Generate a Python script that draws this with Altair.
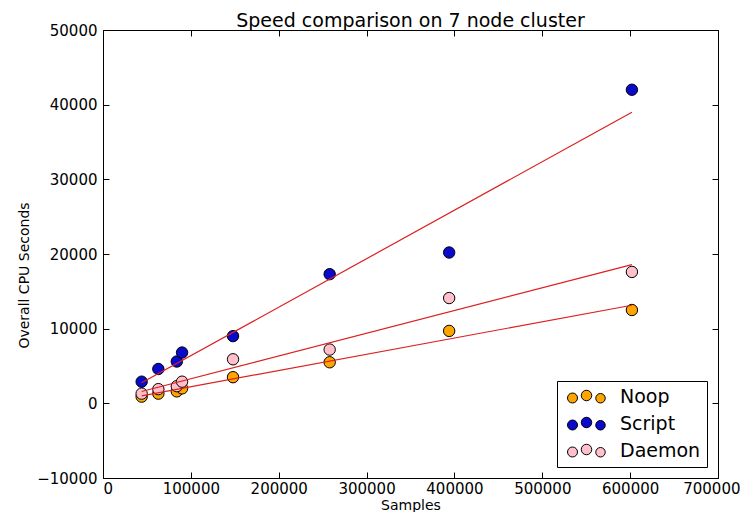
import altair as alt
import pandas as pd

# ---- data ----
series_names = ["Noop", "Script", "Daemon"]
samples = [44000, 63000, 84000, 90000, 148000, 258000, 394000, 602000]
noop_cpu = [900, 1300, 1600, 2000, 3500, 5500, 9700, 12500]
script_cpu = [2900, 4600, 5600, 6800, 9000, 17300, 20200, 42000]
daemon_cpu = [1300, 1900, 2300, 2900, 5900, 7200, 14100, 17600]
series_colors = ["#FFA500", "#0a0acc", "#FFC0CB"]
x_ticks = [0, 100000, 200000, 300000, 400000, 500000, 600000, 700000]
x_labels_main = [0, 100000, 200000, 300000, 400000, 500000, 600000]
x_label_last = [700000]
y_ticks = [-10000, 0, 10000, 20000, 30000, 40000, 50000]

rows = []
for name, vals in zip(series_names, [noop_cpu, script_cpu, daemon_cpu]):
    for s, v in zip(samples, vals):
        rows.append({"Series": name, "Samples": s, "CPU": v})
df = pd.DataFrame(rows)

FONT = "DejaVu Sans"

# legend symbol: three circles like matplotlib's scatter legend
def circ(cx, cy, r):
    return f"M{cx - r},{cy}A{r},{r} 0 1,0 {cx + r},{cy}A{r},{r} 0 1,0 {cx - r},{cy}Z"

legend_path = circ(0, 0.3, 1.0) + " " + circ(2.8, -0.2, 1.05) + " " + circ(5.6, 0.35, 0.95)

xscale = alt.Scale(domain=[0, 700000], nice=False, zero=False)
yscale = alt.Scale(domain=[-10000, 50000], nice=False, zero=False)

base = alt.Chart(df)

points = base.mark_point(filled=True, size=130, stroke="black", strokeWidth=1, opacity=1).encode(
    x=alt.X("Samples:Q", scale=xscale,
            axis=alt.Axis(orient="bottom", values=x_labels_main, format="d", ticks=False, domain=False,
                          grid=False, labelPadding=3, title="Samples", titleFontSize=14,
                          titleX=307.5, titleY=34, titleBaseline="bottom")),
    y=alt.Y("CPU:Q", scale=yscale,
            axis=alt.Axis(orient="left", values=y_ticks, format="d", ticks=False, domain=False,
                          grid=False, labelPadding=6, title="Overall CPU Seconds",
                          titleFontSize=14, titleX=-72, titleY=245)),
    color=alt.Color("Series:N",
                    scale=alt.Scale(domain=series_names, range=series_colors),
                    legend=alt.Legend(title=None, orient="bottom-right", offset=11,
                                      symbolType=legend_path, symbolSize=100,
                                      symbolStrokeColor="black", symbolStrokeWidth=1,
                                      labelFontSize=19, labelFont=FONT, labelColor="black",
                                      labelOffset=38, padding=6, rowPadding=7,
                                      strokeColor="black", fillColor="white")),
)

fits = base.transform_regression("Samples", "CPU", groupby=["Series"]).mark_line(
    color="#dd2020", strokeWidth=1.2
).encode(
    x=alt.X("Samples:Q", scale=xscale,
            axis=alt.Axis(orient="bottom", values=x_ticks, labels=False, domain=False, grid=False,
                          ticks=True, tickSize=6, tickColor="black", offset=-6, title=None)),
    y=alt.Y("CPU:Q", scale=yscale,
            axis=alt.Axis(orient="left", values=y_ticks, labels=False, domain=False, grid=False,
                          ticks=True, tickSize=6, tickColor="black", offset=-6, title=None)),
    detail="Series:N",
)

ghost = base.mark_point(opacity=0).encode(
    x=alt.X("Samples:Q", scale=xscale,
            axis=alt.Axis(orient="top", values=x_ticks, labels=False, domain=False, grid=False,
                          ticks=True, tickSize=6, tickColor="black", offset=-6, title=None)),
    y=alt.Y("CPU:Q", scale=yscale,
            axis=alt.Axis(orient="right", values=y_ticks, labels=False, domain=False, grid=False,
                          ticks=True, tickSize=6, tickColor="black", offset=-6, title=None)),
)

# last x tick label, nudged so it stays inside the page
ghost_label = base.mark_point(opacity=0).encode(
    x=alt.X("Samples:Q", scale=xscale,
            axis=alt.Axis(orient="bottom", values=x_label_last, format="d", ticks=False,
                          domain=False, grid=False, labelPadding=3, labelAlign="right",
                          labelOffset=22, title=None)),
    y=alt.Y("CPU:Q", scale=yscale, axis=None),
)

chart = alt.layer(points, fits, ghost, ghost_label).resolve_axis(
    x="independent", y="independent"
).properties(
    width=615, height=448,
    background="white",
    title=alt.TitleParams("Speed comparison on 7 node cluster", fontSize=19, font=FONT,
                          fontWeight="normal", color="black", offset=0, dy=8),
    autosize=alt.AutoSizeParams(type="none"),
    padding={"left": 95, "top": 22, "right": 23, "bottom": 34},
).configure_view(
    stroke="black", strokeWidth=1
).configure_axis(
    labelFont=FONT, labelFontSize=15, labelColor="black",
    titleFont=FONT, titleFontSize=15, titleColor="black", titleFontWeight="normal",
)

chart.save("out.html", embed_options={"renderer": "svg", "actions": False})
